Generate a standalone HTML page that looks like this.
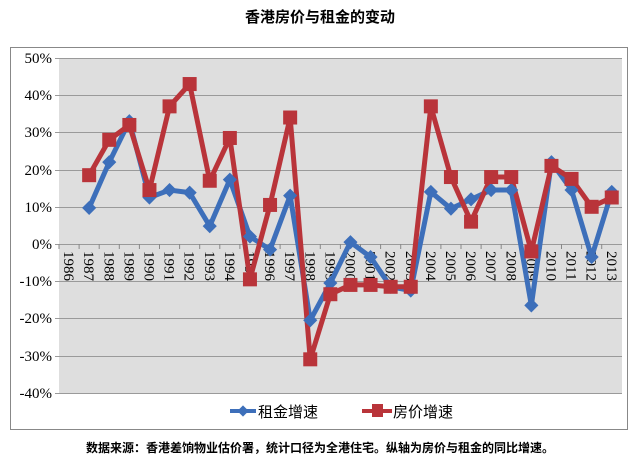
<!DOCTYPE html>
<html><head><meta charset="utf-8"><style>
html,body{margin:0;padding:0;background:#fff;}
svg{display:block;}
</style></head><body>
<svg width="640" height="464" viewBox="0 0 640 464" xmlns="http://www.w3.org/2000/svg">
<text x="320" y="22" text-anchor="middle" font-family="Liberation Sans, Noto Sans CJK SC, sans-serif" font-weight="bold" font-size="15" fill="#000">香港房价与租金的变动</text>
<rect x="10.5" y="47.5" width="617" height="382" fill="#fff" stroke="#888" stroke-width="1"/>
<rect x="59" y="58" width="563" height="335" fill="#dedede"/>
<g stroke="#9a9a9a" stroke-width="1">
<line x1="55" x2="622" y1="58.5" y2="58.5"/>
<line x1="55" x2="622" y1="95.5" y2="95.5"/>
<line x1="55" x2="622" y1="132.5" y2="132.5"/>
<line x1="55" x2="622" y1="170.5" y2="170.5"/>
<line x1="55" x2="622" y1="207.5" y2="207.5"/>
<line x1="55" x2="622" y1="244.5" y2="244.5"/>
<line x1="55" x2="622" y1="281.5" y2="281.5"/>
<line x1="55" x2="622" y1="318.5" y2="318.5"/>
<line x1="55" x2="622" y1="356.5" y2="356.5"/>
<line x1="55" x2="622" y1="393.5" y2="393.5"/>
</g>
<g id="ticks" stroke="#888" stroke-width="1"></g>
<g font-family="Liberation Serif, serif" font-size="15" fill="#000" text-anchor="end">
<text x="52" y="63">50%</text><text x="52" y="100">40%</text><text x="52" y="137">30%</text>
<text x="52" y="175">20%</text><text x="52" y="212">10%</text><text x="52" y="249">0%</text>
<text x="52" y="286">-10%</text><text x="52" y="323">-20%</text><text x="52" y="361">-30%</text>
<text x="52" y="398">-40%</text>
</g>
<g id="xl" font-family="Liberation Serif, serif" font-size="15" fill="#000"></g>
<polyline id="rent" fill="none" stroke="#3d6fba" stroke-width="5" stroke-linejoin="round"/>
<polyline id="price" fill="none" stroke="#b9343a" stroke-width="5" stroke-linejoin="round"/>
<g id="rm" fill="#3d6fba"></g>
<g id="pm" fill="#b9343a"></g>
<line x1="230" x2="256" y1="411" y2="411" stroke="#3d6fba" stroke-width="4"/>
<rect x="239" y="407" width="8" height="8" fill="#3d6fba" transform="rotate(45 243 411)"/>
<text x="258" y="417" font-family="Liberation Sans, Noto Sans CJK SC, sans-serif" font-size="15" fill="#000">租金增速</text>
<line x1="362" x2="392" y1="411" y2="411" stroke="#b9343a" stroke-width="4"/>
<rect x="372" y="404" width="11" height="13" fill="#b9343a"/>
<text x="393" y="417" font-family="Liberation Sans, Noto Sans CJK SC, sans-serif" font-size="15" fill="#000">房价增速</text>
<text x="320" y="452" text-anchor="middle" font-family="Liberation Sans, Noto Sans CJK SC, sans-serif" font-weight="bold" font-size="12" fill="#000">数据来源：香港差饷物业估价署，统计口径为全港住宅。纵轴为房价与租金的同比增速。</text>
</svg>
<script>
var ns="http://www.w3.org/2000/svg";
var rent=[null,9.7,22,33,12.5,14.5,13.8,4.8,17.3,2,-1.5,13,-20.5,-10.5,0.5,-3.5,-11.5,-12.5,14,9.5,12,14.5,14.5,-16.5,22,14.5,-3.5,14];
var price=[null,18.5,28,32,14.5,37,43,17,28.5,-9.5,10.5,34,-31,-13.5,-11,-11,-11.5,-11.5,37,18,6,18,18,-2,21,17.5,10,12.5];
function X(i){return 59+(i+0.5)*20.1;}function Y(v){return 244-v*3.72;}
var rp=[],pp=[];
var rm=document.getElementById('rm'),pm=document.getElementById('pm'),xl=document.getElementById('xl'),tk=document.getElementById('ticks');
for(var i=0;i<28;i++){
 var t=document.createElementNS(ns,'line');var tx=59+i*20.1;
 t.setAttribute('x1',tx);t.setAttribute('x2',tx);t.setAttribute('y1',244);t.setAttribute('y2',249);tk.appendChild(t);
 var l=document.createElementNS(ns,'text');l.textContent=1986+i;
 l.setAttribute('transform','translate('+(X(i)-5)+',251) rotate(90)');xl.appendChild(l);
 if(rent[i]!==null){rp.push(X(i)+','+Y(rent[i]));
  var d=document.createElementNS(ns,'rect');d.setAttribute('x',X(i)-5);d.setAttribute('y',Y(rent[i])-5);d.setAttribute('width',10);d.setAttribute('height',10);d.setAttribute('transform','rotate(45 '+X(i)+' '+Y(rent[i])+')');rm.appendChild(d);}
 if(price[i]!==null){pp.push(X(i)+','+Y(price[i]));
  var s=document.createElementNS(ns,'rect');s.setAttribute('x',X(i)-7);s.setAttribute('y',Y(price[i])-7);s.setAttribute('width',14);s.setAttribute('height',14);pm.appendChild(s);}
}
document.getElementById('rent').setAttribute('points',rp.join(' '));
document.getElementById('price').setAttribute('points',pp.join(' '));
</script>
</body></html>
